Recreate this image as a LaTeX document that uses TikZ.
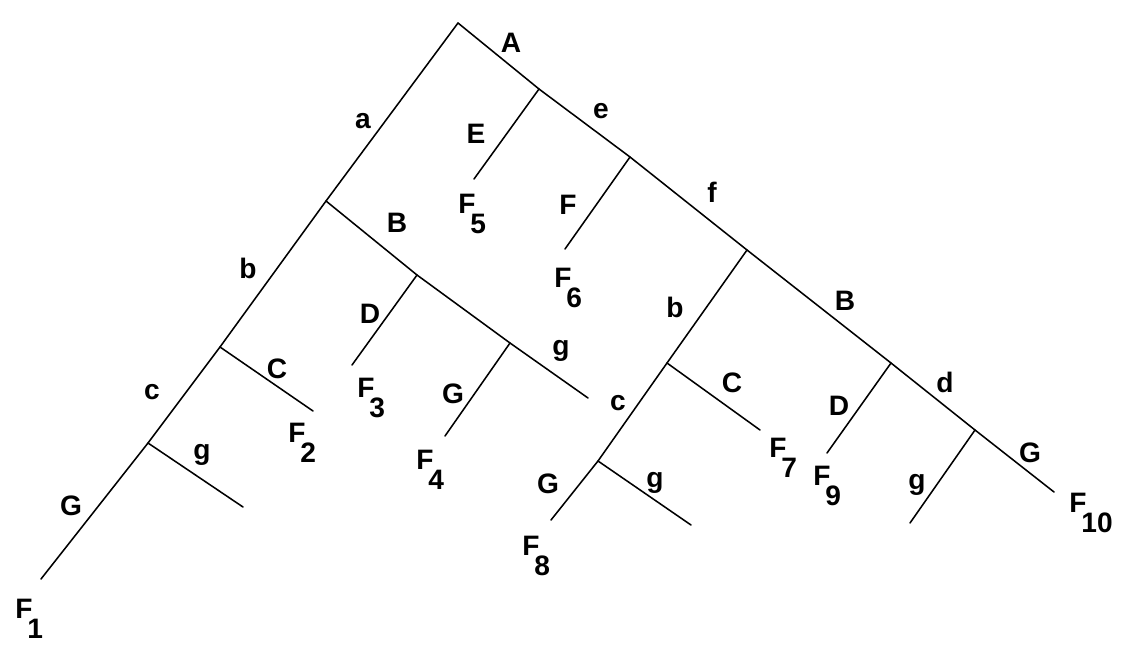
\documentclass[tikz,border=0pt]{standalone}
\usepackage{fontspec}
\setmainfont{Liberation Sans}
\newcommand{\Fsub}[1]{F\kern-0.18em\raisebox{-0.74em}{#1}}

\begin{document}
\begin{tikzpicture}[x=0.025cm, y=-0.025cm,
    branch/.style={line width=1.1pt, line cap=round},
    lbl/.style={font=\fontsize{20}{23}\selectfont\bfseries, inner sep=0pt, anchor=base},
    leaf/.style={lbl, anchor=base west}]
  \useasboundingbox (0,0) rectangle (1130,645);

  % junctions on the two main stems
  \coordinate (top)   at (458,23);
  \coordinate (jB)    at (326,201);
  \coordinate (jC)    at (220,347);
  \coordinate (jg1)   at (148,443);
  \coordinate (end1)  at (41,579);
  \coordinate (jE)    at (539,89);
  \coordinate (jF)    at (630,157);
  \coordinate (jb)    at (747,250);
  \coordinate (jD2)   at (891,363);
  \coordinate (jg2)   at (975,430);
  \coordinate (end10) at (1054,492);
  % inner branches
  \coordinate (jD)    at (417,275);
  \coordinate (jG)    at (510,343);
  \coordinate (endB)  at (588,398);
  \coordinate (jC2)   at (667,363);
  \coordinate (jg3)   at (598,461);
  \coordinate (end8)  at (551,520);
  % free ends of the short branches
  \coordinate (endE)  at (474,179);
  \coordinate (endF)  at (565,249);
  \coordinate (endC)  at (313,411);
  \coordinate (endg1) at (243,507);
  \coordinate (endD)  at (352,365);
  \coordinate (endG)  at (445,436);
  \coordinate (endC2) at (760,430);
  \coordinate (endg3) at (691,525);
  \coordinate (endD2) at (827,453);
  \coordinate (endg2) at (910,523);

  \draw[branch] (top) -- (jB) -- (jC) -- (jg1) -- (end1);
  \draw[branch] (top) -- (jE) -- (jF) -- (jb) -- (jD2) -- (jg2) -- (end10);
  \draw[branch] (jB) -- (jD) -- (jG) -- (endB);
  \draw[branch] (jb) -- (jC2) -- (jg3) -- (end8);
  \foreach \j/\e in {jE/endE, jF/endF, jC/endC, jg1/endg1, jD/endD,
                     jG/endG, jC2/endC2, jg3/endg3, jD2/endD2, jg2/endg2}
    \draw[branch] (\j) -- (\e);

  % edge labels
  \node[lbl] (lA)  at (511,52)  {A};
  \node[lbl] (la)  at (363,128) {a};
  \node[lbl] (lE)  at (476,143) {E};
  \node[lbl] (le)  at (601,118) {e};
  \node[lbl] (lF)  at (568,214) {F};
  \node[lbl] (lf)  at (712,202) {f};
  \node[lbl] (lB1) at (397,232) {B};
  \node[lbl] (lb1) at (248,278) {b};
  \node[lbl] (lD1) at (370,323) {D};
  \node[lbl] (lg1) at (561,355) {g};
  \node[lbl] (lC1) at (277,378) {C};
  \node[lbl] (lc1) at (152,399) {c};
  \node[lbl] (lg2) at (202,459) {g};
  \node[lbl] (lG1) at (453,403) {G};
  \node[lbl] (lG2) at (71,515)  {G};
  \node[lbl] (lb2) at (675,317) {b};
  \node[lbl] (lB2) at (845,310) {B};
  \node[lbl] (lc2) at (618,410) {c};
  \node[lbl] (lC2) at (732,392) {C};
  \node[lbl] (lD2) at (839,415) {D};
  \node[lbl] (ld)  at (945,392) {d};
  \node[lbl] (lG3) at (548,493) {G};
  \node[lbl] (lg3) at (655,487) {g};
  \node[lbl] (lg4) at (917,489) {g};
  \node[lbl] (lG4) at (1030,462) {G};

  % leaves
  \node[leaf] (F1)  at (15,618)   {\Fsub{1}};
  \node[leaf] (F2)  at (288,442)  {\Fsub{2}};
  \node[leaf] (F3)  at (357,397)  {\Fsub{3}};
  \node[leaf] (F4)  at (416,469)  {\Fsub{4}};
  \node[leaf] (F5)  at (458,213)  {\Fsub{5}};
  \node[leaf] (F6)  at (554,287)  {\Fsub{6}};
  \node[leaf] (F7)  at (769,457)  {\Fsub{7}};
  \node[leaf] (F8)  at (522,555)  {\Fsub{8}};
  \node[leaf] (F9)  at (813,485)  {\Fsub{9}};
  \node[leaf] (F10) at (1069,512) {\Fsub{10}};
\end{tikzpicture}
\end{document}
